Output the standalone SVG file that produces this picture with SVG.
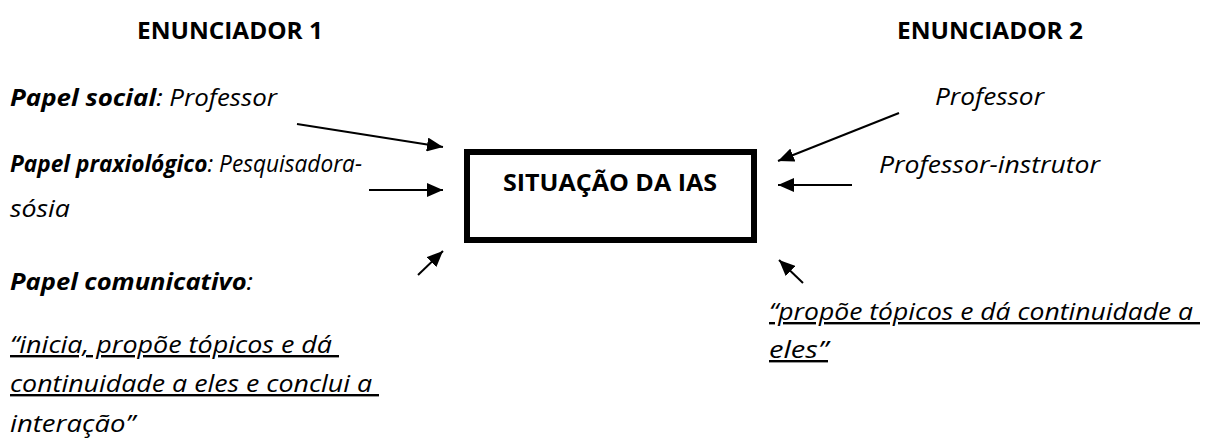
<svg xmlns="http://www.w3.org/2000/svg" width="1206" height="439" viewBox="0 0 1206 439">
<defs>
<style>
text{font-family:"Open Sans","Noto Sans","Liberation Sans",sans-serif;fill:#000;font-size:24px}
.b{font-weight:bold}
.i{font-style:italic}
.u{text-decoration:underline}
.conn line{stroke:#000;stroke-width:2;marker-end:url(#ah)}
</style>
<marker id="ah" viewBox="0 0 8 7" refX="8" refY="3.5" markerWidth="8" markerHeight="7" markerUnits="strokeWidth" orient="auto">
<path d="M0,0 L8,3.5 L0,7 z" fill="#000"/>
</marker>
</defs>
<rect width="1206" height="439" fill="#fff"/>
<g id="header1"><text class="b" x="137" y="39" textLength="186" lengthAdjust="spacingAndGlyphs">ENUNCIADOR 1</text></g>
<g id="header2"><text class="b" x="897" y="39" textLength="186" lengthAdjust="spacingAndGlyphs">ENUNCIADOR 2</text></g>
<g id="papel-social"><text class="i" x="10" y="106" textLength="267" lengthAdjust="spacingAndGlyphs"><tspan class="b">Papel social</tspan>: Professor</text></g>
<g id="papel-praxiologico"><text class="i" x="10" y="172" textLength="352" lengthAdjust="spacingAndGlyphs"><tspan class="b">Papel praxiológico</tspan>: Pesquisadora-</text><text class="i" x="10" y="217" textLength="60" lengthAdjust="spacingAndGlyphs">sósia</text></g>
<g id="papel-comunicativo"><text class="i" x="10" y="290" textLength="243" lengthAdjust="spacingAndGlyphs"><tspan class="b">Papel comunicativo</tspan>:</text>
<text class="i u" x="10" y="353" xml:space="preserve" textLength="329" lengthAdjust="spacingAndGlyphs">“inicia, propõe tópicos e dá </text>
<text class="i u" x="10" y="392" xml:space="preserve" textLength="369" lengthAdjust="spacingAndGlyphs">continuidade a eles e conclui a </text>
<text class="i" x="10" y="432" textLength="125" lengthAdjust="spacingAndGlyphs">interação”</text></g>
<g id="situacao"><rect x="467" y="152" width="287" height="88" fill="none" stroke="#000" stroke-width="6"/><text class="b" x="503" y="191" textLength="214" lengthAdjust="spacingAndGlyphs">SITUAÇÃO DA IAS</text></g>
<g id="professor2"><text class="i" x="935" y="105" textLength="109" lengthAdjust="spacingAndGlyphs">Professor</text></g>
<g id="professor-instrutor"><text class="i" x="879" y="173" textLength="221" lengthAdjust="spacingAndGlyphs">Professor-instrutor</text></g>
<g id="propoe"><text class="i u" x="769" y="320" xml:space="preserve" textLength="431" lengthAdjust="spacingAndGlyphs">“propõe tópicos e dá continuidade a </text><text class="i u" x="769" y="358" textLength="59" lengthAdjust="spacingAndGlyphs">eles”</text></g>
<g class="conn" id="connectors">
<line x1="297" y1="124" x2="443" y2="147"/>
<line x1="369" y1="190" x2="443" y2="190"/>
<line x1="418" y1="275" x2="443" y2="251"/>
<line x1="899" y1="113" x2="778" y2="161"/>
<line x1="852" y1="185" x2="778" y2="185"/>
<line x1="803" y1="283" x2="779" y2="260"/>
</g>
</svg>
